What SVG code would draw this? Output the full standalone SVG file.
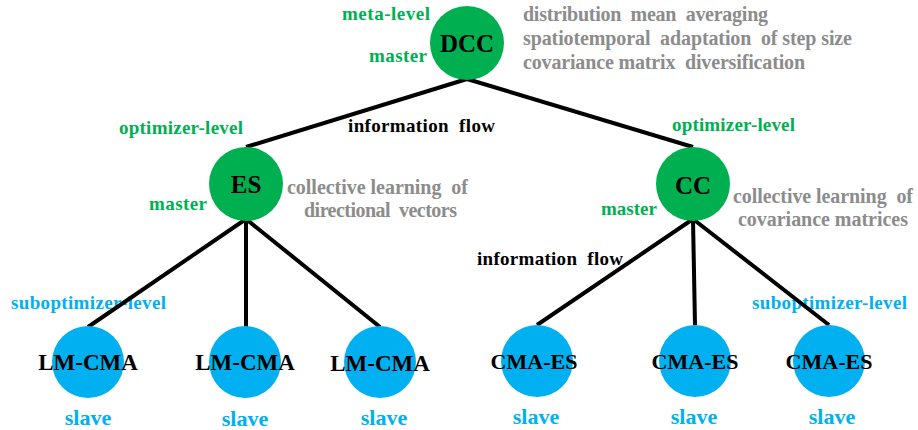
<svg xmlns="http://www.w3.org/2000/svg" width="918" height="430" viewBox="0 0 918 430">
<style>
text{font-family:"Liberation Serif","Times New Roman",serif;font-weight:bold;white-space:pre}
.g{fill:#00b050;font-size:19px}
.b{fill:#00b0f0;font-size:19px}
.s{fill:#00b0f0;font-size:22px;text-anchor:middle}
.gr{fill:#8c8c8c;font-size:20px}
.k{fill:#000;font-size:19px}
.n{fill:#000;text-anchor:middle}
.cg{fill:#00b050}
.cb{fill:#00b0f0}
.c line{stroke:#000;stroke-width:4;stroke-linecap:butt}
</style>
<rect width="918" height="430" fill="#fff"/>
<g id="labels">
<text class="g" x="342" y="20" textLength="88" lengthAdjust="spacing">meta-level</text>
<text class="g" x="369" y="62" textLength="58" lengthAdjust="spacing">master</text>
<text class="gr" x="523" y="21" textLength="245" lengthAdjust="spacing">distribution  mean  averaging</text>
<text class="gr" x="523" y="45" textLength="329" lengthAdjust="spacing">spatiotemporal  adaptation  of step size</text>
<text class="gr" x="523" y="69" textLength="282" lengthAdjust="spacing">covariance matrix  diversification</text>
<text class="k" x="348" y="132" textLength="147" lengthAdjust="spacing">information  flow</text>
<text class="g" x="119" y="134" textLength="124" lengthAdjust="spacing">optimizer-level</text>
<text class="g" x="672" y="131" textLength="123" lengthAdjust="spacing">optimizer-level</text>
<text class="g" x="149" y="210" textLength="58" lengthAdjust="spacing">master</text>
<text class="gr" x="287" y="194" textLength="181" lengthAdjust="spacing">collective learning  of</text>
<text class="gr" x="304" y="217" textLength="153" lengthAdjust="spacing">directional  vectors</text>
<text class="g" x="601" y="215" textLength="56" lengthAdjust="spacing">master</text>
<text class="gr" x="733" y="203" textLength="180" lengthAdjust="spacing">collective learning  of</text>
<text class="gr" x="738" y="226" textLength="170" lengthAdjust="spacing">covariance matrices</text>
<text class="k" x="477" y="265" textLength="146" lengthAdjust="spacing">information  flow</text>
<text class="b" x="11" y="309" textLength="155" lengthAdjust="spacing">suboptimizer-level</text>
<text class="b" x="752" y="309" textLength="155" lengthAdjust="spacing">suboptimizer-level</text>
</g>
<g id="connectors" class="c">
<line x1="467" y1="79" x2="246" y2="147"/>
<line x1="467" y1="79" x2="693" y2="147"/>
<line x1="246" y1="219" x2="88" y2="327"/>
<line x1="246" y1="219" x2="246" y2="327"/>
<line x1="246" y1="219" x2="380" y2="327"/>
<line x1="693" y1="219" x2="537" y2="325"/>
<line x1="693" y1="219" x2="695" y2="325"/>
<line x1="693" y1="219" x2="829" y2="325"/>
</g>
<g id="node-dcc"><circle class="cg" cx="467" cy="43" r="37"/><text class="n" x="467" y="52" font-size="25">DCC</text></g>
<g id="node-es"><circle class="cg" cx="246" cy="184" r="37"/><text class="n" x="246" y="193" font-size="25">ES</text></g>
<g id="node-cc"><circle class="cg" cx="693" cy="184" r="37"/><text class="n" x="693" y="194" font-size="25">CC</text></g>
<g id="node-lm1"><circle class="cb" cx="88" cy="362" r="36"/><text class="n" x="88" y="370" font-size="23">LM-CMA</text><text class="s" x="88" y="425">slave</text></g>
<g id="node-lm2"><circle class="cb" cx="245" cy="362" r="36"/><text class="n" x="245" y="370" font-size="23">LM-CMA</text><text class="s" x="245" y="426">slave</text></g>
<g id="node-lm3"><circle class="cb" cx="380" cy="362" r="36"/><text class="n" x="380" y="371" font-size="23">LM-CMA</text><text class="s" x="384" y="425">slave</text></g>
<g id="node-cma1"><circle class="cb" cx="537" cy="361" r="36"/><text class="n" x="534" y="369" font-size="22">CMA-ES</text><text class="s" x="536" y="424">slave</text></g>
<g id="node-cma2"><circle class="cb" cx="695" cy="361" r="36"/><text class="n" x="695" y="369" font-size="22">CMA-ES</text><text class="s" x="694" y="424">slave</text></g>
<g id="node-cma3"><circle class="cb" cx="829" cy="361" r="36"/><text class="n" x="829" y="369" font-size="22">CMA-ES</text><text class="s" x="832" y="424">slave</text></g>
</svg>
